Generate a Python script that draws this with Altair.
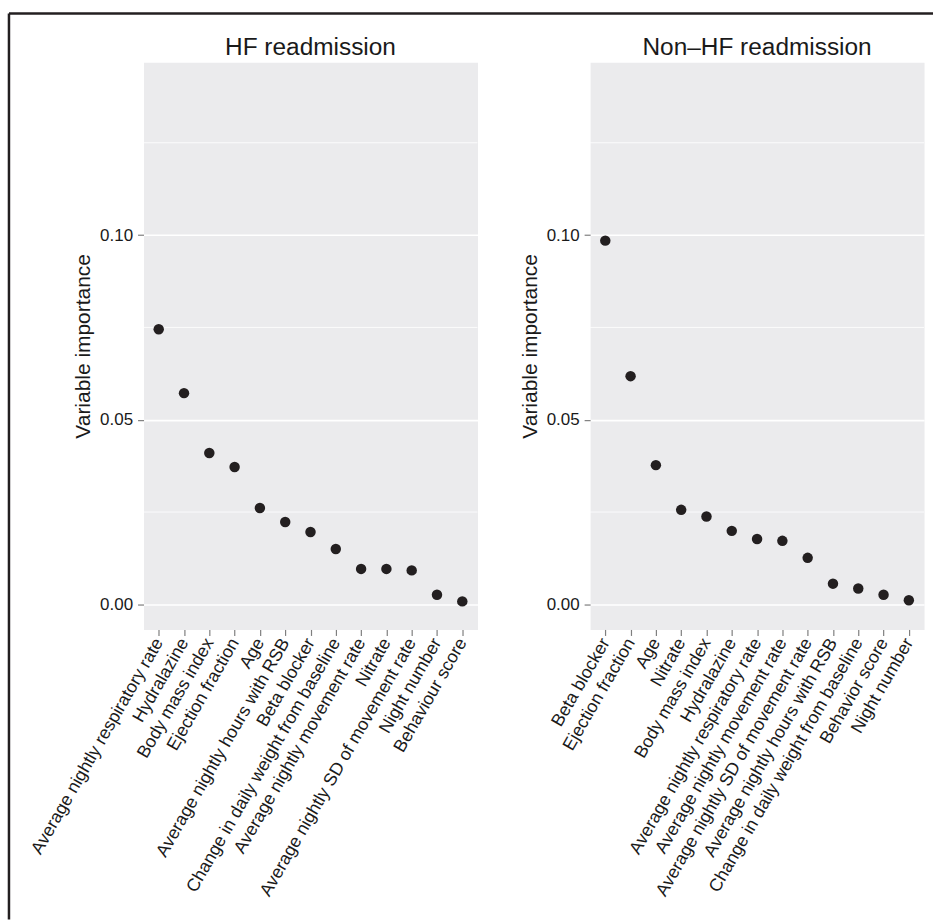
import altair as alt
import pandas as pd

# ---- data ----
hf_vars = [
    "Average nightly respiratory rate", "Hydralazine", "Body mass index",
    "Ejection fraction", "Age", "Average nightly hours with RSB", "Beta blocker",
    "Change in daily weight from baseline", "Average nightly movement rate",
    "Nitrate", "Average nightly SD of movement rate", "Night number",
    "Behaviour score",
]
hf_imp = [0.0745, 0.0572, 0.0410, 0.0372, 0.0261, 0.0223, 0.0196, 0.0150,
          0.0096, 0.0096, 0.0092, 0.0026, 0.0008]

nonhf_vars = [
    "Beta blocker", "Ejection fraction", "Age", "Nitrate", "Body mass index",
    "Hydralazine", "Average nightly respiratory rate",
    "Average nightly movement rate", "Average nightly SD of movement rate",
    "Average nightly hours with RSB", "Change in daily weight from baseline",
    "Behavior score", "Night number",
]
nonhf_imp = [0.0985, 0.0618, 0.0377, 0.0256, 0.0238, 0.0199, 0.0177, 0.0172,
             0.0126, 0.0056, 0.0043, 0.0026, 0.0011]

panel_titles = ["HF readmission", "Non\u2013HF readmission"]
y_ticks = [0.0, 0.05, 0.10]
y_minor = [0.025, 0.075, 0.125]
y_domain = [-0.0068, 0.1468]

FONT = "Liberation Sans"
PW, PH = 335, 569


def panel(vars_, imps, title, with_border=False):
    df = pd.DataFrame({"variable": vars_, "importance": imps})
    xenc = alt.X("variable:N", sort=vars_,
                 scale=alt.Scale(type="point", padding=0.6),
                 axis=alt.Axis(title=None, labelAngle=300, labelAlign="right",
                               labelBaseline="middle", labelPadding=4,
                               labelFontSize=17.8, labelLimit=400))
    yenc = alt.Y("importance:Q",
                 scale=alt.Scale(domain=y_domain, nice=False, zero=False),
                 axis=alt.Axis(title="Variable importance", values=y_ticks,
                               format=".2f", titleFontSize=21,
                               titleFontWeight="normal", titlePadding=6,
                               labelPadding=5))
    minor = alt.Chart(pd.DataFrame({"m": y_minor})).mark_rule(
        color="white", strokeWidth=0.8
    ).encode(y=alt.Y("m:Q", scale=alt.Scale(domain=y_domain, nice=False, zero=False)))
    pts = alt.Chart(df).mark_circle(size=110, color="#231F20", opacity=1).encode(
        x=xenc, y=yenc)
    ttl = alt.Chart(pd.DataFrame({"t": [title]})).mark_text(
        font=FONT, fontSize=24.5, color="#1a1a1a", align="center", baseline="alphabetic"
    ).encode(x=alt.value(PW / 2), y=alt.value(-7), text="t:N")
    layers = [minor, pts, ttl]
    if with_border:
        one = pd.DataFrame({"a": [0]})
        anchor = alt.Chart(one).mark_rect(color="white").encode(
            x=alt.value(-143), x2=alt.value(-142), y=alt.value(-60), y2=alt.value(-59))
        top = alt.Chart(one).mark_rule(color="#231F20", strokeWidth=2.5).encode(
            x=alt.value(-135), x2=alt.value(792), y=alt.value(-49))
        left = alt.Chart(one).mark_rule(color="#231F20", strokeWidth=2.5).encode(
            x=alt.value(-135), y=alt.value(-49), y2=alt.value(860))
        layers = [anchor, top, left] + layers
    return alt.layer(*layers).properties(width=PW, height=PH)


left_panel = panel(hf_vars, hf_imp, panel_titles[0], with_border=True)
right_panel = panel(nonhf_vars, nonhf_imp, panel_titles[1])

chart = alt.hconcat(left_panel, right_panel, spacing=113, bounds="flush").properties(
    padding=0, background="white"
).configure_view(
    fill="#EBEBED", stroke="transparent"
).configure_axis(
    labelFont=FONT, titleFont=FONT, labelFontSize=17, labelColor="#1a1a1a",
    titleColor="#1a1a1a", domain=False, tickColor="#7F7F7F", tickSize=6,
    tickWidth=1.2, gridColor="white", gridWidth=1.6,
)

chart.save("out.html", embed_options={"renderer": "svg", "actions": False})
